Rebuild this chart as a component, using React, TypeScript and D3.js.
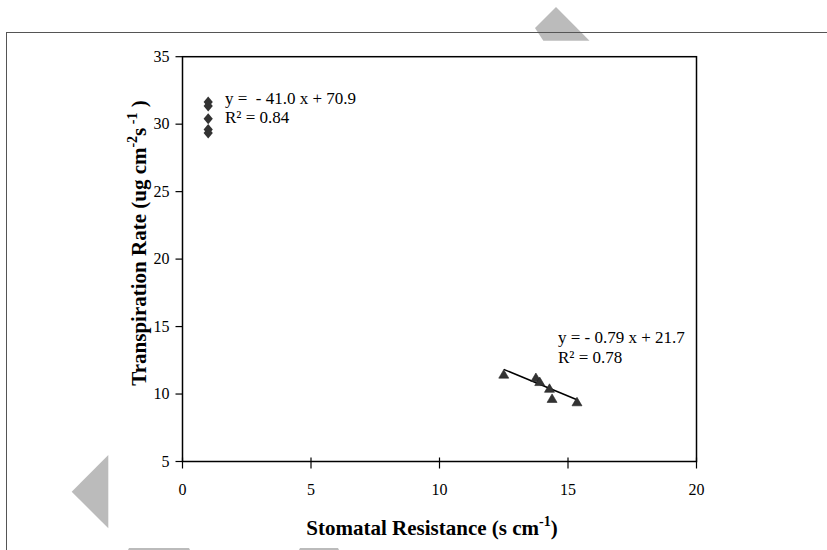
import React from 'react';
import * as d3 from 'd3';

// diamonds: the group that sits at x = 1
const diamondX = [1, 1, 1, 1, 1];
const diamondY = [31.65, 31.35, 30.4, 29.6, 29.35];

// triangles: the group with the trend line
const triangleX = [12.5, 13.75, 13.9, 14.28, 14.38, 15.35];
const triangleY = [11.4, 11.15, 10.85, 10.35, 9.6, 9.35];

const xTicks = [0, 5, 10, 15, 20];
const yTicks = [5, 10, 15, 20, 25, 30, 35];

const fit = { slope: -0.79, intercept: 21.7, from: 12.5, to: 15.35 };
const eqTop = ['y =\u00a0 - 41.0 x + 70.9', '0.84'];
const eqBottom = ['y = - 0.79 x + 21.7', '0.78'];

const W = 827;
const H = 550;
const serif = '"Liberation Serif", "Times New Roman", serif';
const ink = '#000';
const markFill = '#333';
const ghost = '#bbbbbb';

const x = d3.scaleLinear().domain([0, 20]).range([182.5, 696.5]);
const y = d3.scaleLinear().domain([5, 35]).range([461.5, 56.7]);

const App = () => {
  const line = d3
    .line<number>()
    .x((d) => x(d))
    .y((d) => y(fit.slope * d + fit.intercept));

  const diamond = (cx: number, cy: number) =>
    `M${cx},${cy - 5.5}L${cx + 4.6},${cy}L${cx},${cy + 5.5}L${cx - 4.6},${cy}Z`;
  const tri = (cx: number, cy: number) =>
    `M${cx},${cy - 5.5}L${cx + 5},${cy + 3}L${cx - 5},${cy + 3}Z`;

  const [x0, x1] = x.range();
  const [y0, y1] = y.range();

  return (
    <svg
      width={W}
      height={H}
      style={{ position: 'absolute', left: 0, top: 0, background: '#fff' }}
      fontFamily={serif}
    >
      {/* stray grey shapes left over from the slide */}
      <polygon points="535,28 556,7 589.5,40.7 543.3,40.7" fill={ghost} />
      <polygon points="71.7,491.7 108.3,455 108.3,528.3" fill={ghost} />
      <polygon points="129,548 189,548 190,550 128,550" fill={ghost} />
      <polygon points="300,548 338,548 339,550 299,550" fill={ghost} />

      {/* outer frame */}
      <line x1={6} y1={32.5} x2={W} y2={32.5} stroke="#555" strokeWidth={1} />
      <line x1={6.5} y1={32} x2={6.5} y2={H} stroke="#555" strokeWidth={1} />

      {/* plot box */}
      <rect x={x0} y={y1} width={x1 - x0} height={y0 - y1} fill="none" stroke={ink} strokeWidth={1.5} />

      {yTicks.map((t) => (
        <g key={'y' + t}>
          <line x1={x0 - 7} x2={x0} y1={y(t)} y2={y(t)} stroke={ink} strokeWidth={1.2} />
          <text x={x0 - 13} y={y(t) + 5} textAnchor="end" fontSize={16}>
            {t}
          </text>
        </g>
      ))}
      {xTicks.map((t) => (
        <g key={'x' + t}>
          <line x1={x(t)} x2={x(t)} y1={y0 - 4} y2={y0 + 7} stroke={ink} strokeWidth={1.2} />
          <text x={x(t)} y={y0 + 33} textAnchor="middle" fontSize={16}>
            {t}
          </text>
        </g>
      ))}

      {/* trend line */}
      <path d={line([fit.from, fit.to]) || ''} fill="none" stroke={ink} strokeWidth={1.5} />

      {diamondX.map((d, i) => (
        <path key={'d' + i} d={diamond(x(d), y(diamondY[i]))} fill={markFill} />
      ))}
      {triangleX.map((d, i) => (
        <path key={'t' + i} d={tri(x(d), y(triangleY[i]))} fill={markFill} stroke="#222" strokeWidth={0.6} />
      ))}

      {/* equations */}
      <text x={225} y={104} fontSize={17}>
        {eqTop[0]}
      </text>
      <text x={225} y={123} fontSize={17}>
        R² = {eqTop[1]}
      </text>
      <text x={558} y={343} fontSize={17}>
        {eqBottom[0]}
      </text>
      <text x={558} y={363} fontSize={17}>
        R² = {eqBottom[1]}
      </text>

      {/* axis titles */}
      <text x={432} y={535} textAnchor="middle" fontSize={21} fontWeight="bold">
        Stomatal Resistance (s cm
        <tspan fontSize={14} dy={-9}>-1</tspan>
        <tspan dy={9}>)</tspan>
      </text>
      <text
        transform={`translate(146,243) rotate(-90)`}
        textAnchor="middle"
        fontSize={21}
        fontWeight="bold"
      >
        Transpiration Rate (ug cm
        <tspan fontSize={14} dy={-9}>-2</tspan>
        <tspan dy={9}>s</tspan>
        <tspan fontSize={14} dy={-9}> -1</tspan>
        <tspan dy={9}> )</tspan>
      </text>
    </svg>
  );
};

export default App;
